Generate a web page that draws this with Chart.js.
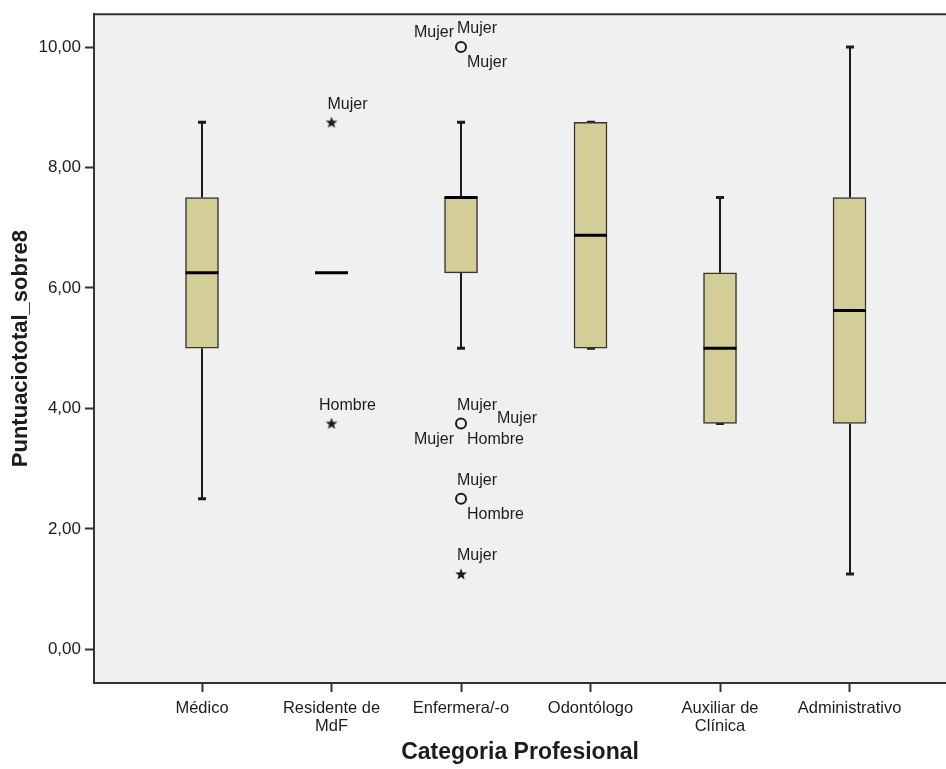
<!DOCTYPE html>
<html>
<head>
<meta charset="utf-8">
<script src="https://cdn.jsdelivr.net/npm/chart.js@4.4.1/dist/chart.umd.min.js"></script>
<style>
  html, body { margin: 0; padding: 0; background: #fff; overflow: hidden; }
  #wrap { width: 946px; height: 769px; }
  canvas { display: block; }
</style>
</head>
<body>
<div id="wrap"><canvas id="box-chart" width="946" height="769"></canvas></div>
<script>
// Categories (x axis)
const categories = [
  'Médico', ['Residente de', 'MdF'], 'Enfermera/-o', 'Odontólogo', ['Auxiliar de', 'Clínica'], 'Administrativo',
];
// Box statistics per category
const whiskerLow = [2.5, 6.25, 5.0, 5.0, 3.75, 1.25];
const q1 = [5.0, 6.25, 6.25, 5.0, 3.75, 3.75];
const median = [6.25, 6.25, 7.5, 6.875, 5.0, 5.625];
const q3 = [7.5, 6.25, 7.5, 8.75, 6.25, 7.5];
const whiskerHigh = [8.75, 6.25, 8.75, 8.75, 7.5, 10.0];
// Outliers: category index, value, kind, case labels
const outlierCat = [1, 1, 2, 2, 2, 2];
const outlierVal = [8.75, 3.75, 10.0, 3.75, 2.5, 1.25];
const outlierKind = ['extreme', 'extreme', 'mild', 'mild', 'mild', 'extreme'];
const outlierLabels = [
  ['Mujer'], ['Hombre'], ['Mujer', 'Mujer', 'Mujer'], ['Mujer', 'Mujer', 'Mujer', 'Hombre'], ['Mujer', 'Hombre'], ['Mujer'],
];
// Y tick values
const yTicks = [0, 2, 4, 6, 8, 10];

// where each case label sits around its marker
const labelSlots = [
  ['up'], ['up'], ['up', 'upLeft', 'downRight'], ['up', 'right', 'downLeft', 'downRight'], ['up', 'downRight'], ['up'],
];
const slotOffsets = {
  up: { dx: 16, dy: -18, align: 'center' },
  upLeft: { dx: -7, dy: -14, align: 'right' },
  downRight: { dx: 6, dy: 16, align: 'left' },
  downLeft: { dx: -7, dy: 16, align: 'right' },
  right: { dx: 36, dy: -5, align: 'left' },
};

const FONT = "'Liberation Sans', Arial, sans-serif";
const INK = '#1c1c1c';

// small filled star for extreme values
const starImg = (() => {
  const c = document.createElement('canvas');
  c.width = 14; c.height = 14;
  const g = c.getContext('2d');
  g.fillStyle = INK;
  g.beginPath();
  for (let i = 0; i < 10; i++) {
    const r = i % 2 === 0 ? 6.2 : 2.6;
    const a = -Math.PI / 2 + i * Math.PI / 5;
    g.lineTo(7 + r * Math.cos(a), 7.5 + r * Math.sin(a));
  }
  g.closePath();
  g.fill();
  return c;
})();

const outlierPoints = (kind) => outlierVal
  .map((v, i) => ({ x: outlierCat[i], y: v, kind: outlierKind[i] }))
  .filter((p) => p.kind === kind);

// whiskers behind boxes, medians + labels on top
const boxplotPlugin = {
  id: 'boxplotParts',
  beforeDraw(chart) {
    const { ctx, chartArea: a } = chart;
    ctx.save();
    ctx.fillStyle = '#f0f0f0';
    ctx.fillRect(a.left, a.top, a.right - a.left, a.bottom - a.top);
    ctx.strokeStyle = '#333';
    ctx.lineWidth = 2;
    ctx.beginPath();
    ctx.moveTo(a.left, a.top);
    ctx.lineTo(a.right, a.top);
    ctx.stroke();
    ctx.restore();
  },
  beforeDatasetsDraw(chart) {
    const { ctx } = chart;
    const xs = chart.scales.x;
    const ys = chart.scales.y;
    ctx.save();
    ctx.strokeStyle = INK;
    ctx.lineWidth = 2;
    categories.forEach((c, i) => {
      if (whiskerHigh[i] === whiskerLow[i]) return;
      const x = Math.round(xs.getPixelForValue(i));
      const yHi = ys.getPixelForValue(whiskerHigh[i]);
      const yLo = ys.getPixelForValue(whiskerLow[i]);
      ctx.beginPath();
      ctx.moveTo(x, yHi);
      ctx.lineTo(x, ys.getPixelForValue(q3[i]));
      ctx.moveTo(x, yLo);
      ctx.lineTo(x, ys.getPixelForValue(q1[i]));
      ctx.stroke();
      ctx.lineWidth = 3;
      ctx.beginPath();
      ctx.moveTo(x - 4, yHi);
      ctx.lineTo(x + 4, yHi);
      ctx.moveTo(x - 4, yLo);
      ctx.lineTo(x + 4, yLo);
      ctx.stroke();
      ctx.lineWidth = 2;
    });
    ctx.restore();
  },
  afterDatasetsDraw(chart) {
    const { ctx } = chart;
    const xs = chart.scales.x;
    const ys = chart.scales.y;
    ctx.save();
    ctx.strokeStyle = '#000';
    ctx.lineWidth = 3;
    categories.forEach((c, i) => {
      const x = xs.getPixelForValue(i);
      const y = ys.getPixelForValue(median[i]);
      ctx.beginPath();
      ctx.moveTo(x - 16.5, y);
      ctx.lineTo(x + 16.5, y);
      ctx.stroke();
    });
    ctx.fillStyle = INK;
    ctx.font = `16px ${FONT}`;
    ctx.textBaseline = 'middle';
    outlierVal.forEach((v, i) => {
      const px = xs.getPixelForValue(outlierCat[i]);
      const py = ys.getPixelForValue(v);
      outlierLabels[i].forEach((txt, k) => {
        const s = slotOffsets[labelSlots[i][k]];
        ctx.textAlign = s.align;
        ctx.fillText(txt, px + s.dx, py + s.dy);
      });
    });
    ctx.restore();
  },
};

const ctx = document.getElementById('box-chart');
// eslint-disable-next-line no-unused-vars
const chart = new Chart(ctx, {
  type: 'bar',
  data: {
    datasets: [
      // Boxes (Q1 to Q3)
      {
        label: 'Caja',
        data: categories.map((c, i) => ({ x: i, y: [q1[i], q3[i]] })),
        backgroundColor: '#d3ce98',
        borderColor: '#333',
        borderWidth: 1.5,
        borderSkipped: false,
        barThickness: 33,
      },
      // Mild outliers
      {
        type: 'scatter',
        label: 'Atípicos',
        data: outlierPoints('mild'),
        pointStyle: 'circle',
        pointRadius: 5,
        borderWidth: 2,
        borderColor: INK,
        backgroundColor: 'rgba(0,0,0,0)',
      },
      // Extreme values
      {
        type: 'scatter',
        label: 'Extremos',
        data: outlierPoints('extreme'),
        pointStyle: starImg,
        pointRadius: 7,
      },
    ],
  },
  options: {
    responsive: false,
    animation: false,
    devicePixelRatio: 1,
    layout: {
      autoPadding: false,
      padding: { top: 10, bottom: 0, left: 0, right: 0 },
    },
    scales: {
      x: {
        type: 'linear',
        min: -0.834,
        max: 5.745,
        offset: false,
        afterBuildTicks: (axis) => { axis.ticks = categories.map((c, i) => ({ value: i })); },
        afterFit: (axis) => { axis.height = 86; axis.paddingRight = 0; axis.paddingLeft = 0; },
        grid: {
          offset: false,
          drawOnChartArea: false,
          drawTicks: true,
          tickLength: 9,
          tickWidth: 2,
          tickColor: '#333',
        },
        border: { display: true, color: '#333', width: 2 },
        ticks: {
          padding: 7,
          maxRotation: 0,
          autoSkip: false,
          color: INK,
          font: { family: FONT, size: 16.5, lineHeight: 1.1 },
          callback: (value) => categories[value],
        },
        title: {
          display: true,
          text: 'Categoria Profesional',
          color: INK,
          font: { family: FONT, size: 23, weight: 'bold' },
          padding: { top: 0, bottom: 3 },
        },
      },
      y: {
        min: -0.56,
        max: 10.545,
        afterBuildTicks: (axis) => { axis.ticks = yTicks.map((v) => ({ value: v })); },
        afterFit: (axis) => { axis.width = 94; },
        grid: {
          drawOnChartArea: false,
          drawTicks: true,
          tickLength: 9,
          tickWidth: 2,
          tickColor: '#333',
        },
        border: { display: true, color: '#333', width: 2 },
        ticks: {
          padding: 4,
          color: INK,
          font: { family: FONT, size: 17 },
          callback: (value) => value.toFixed(2).replace('.', ','),
        },
        title: {
          display: true,
          text: 'Puntuaciototal_sobre8',
          color: INK,
          font: { family: FONT, size: 22, weight: 'bold' },
          padding: { top: 8, bottom: 0 },
        },
      },
    },
    plugins: {
      legend: { display: false },
      tooltip: { enabled: false },
    },
  },
  plugins: [boxplotPlugin],
});
</script>
</body>
</html>
